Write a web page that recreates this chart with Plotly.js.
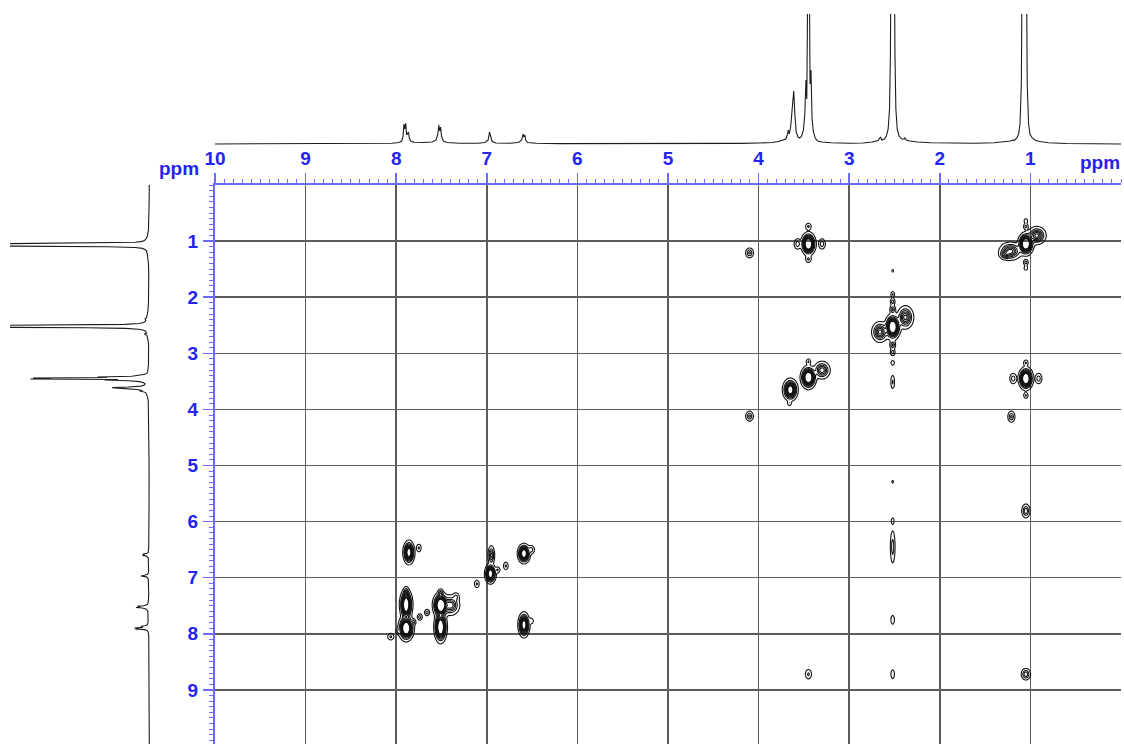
<!DOCTYPE html>
<html>
<head>
<meta charset="utf-8">
<script src="https://cdn.plot.ly/plotly-3.0.1.min.js"></script>
<style>
  html, body { margin: 0; padding: 0; background: #ffffff; }
  #chart { width: 1124px; height: 744px; }
</style>
</head>
<body>
<div id="chart"></div>
<script>
// ---------- 1D projection spectrum (ppm, intensity) ----------
const specPpm = [10.0, 9.0, 8.5, 8.2, 8.05, 7.97, 7.94, 7.925, 7.915, 7.905, 7.895, 7.885, 7.875, 7.865, 7.855, 7.84, 7.80, 7.70, 7.60, 7.56, 7.54, 7.53, 7.52, 7.51, 7.50, 7.48, 7.44, 7.30, 7.10, 7.02, 6.985, 6.97, 6.955, 6.94, 6.90, 6.75, 6.65, 6.615, 6.60, 6.59, 6.58, 6.57, 6.55, 6.45, 6.2, 5.5, 5.0, 4.5, 4.2, 4.0, 3.85, 3.78, 3.72, 3.70, 3.68, 3.672, 3.662, 3.645, 3.625, 3.612, 3.60, 3.585, 3.565, 3.545, 3.525, 3.505, 3.49, 3.477, 3.468, 3.457, 3.449, 3.44, 3.432, 3.422, 3.41, 3.395, 3.375, 3.35, 3.3, 3.2, 3.0, 2.85, 2.75, 2.68, 2.655, 2.64, 2.61, 2.59, 2.57, 2.555, 2.545, 2.535, 2.525, 2.515, 2.505, 2.495, 2.485, 2.47, 2.45, 2.42, 2.395, 2.385, 2.37, 2.33, 2.25, 2.1, 1.9, 1.6, 1.4, 1.3, 1.22, 1.195, 1.18, 1.15, 1.13, 1.115, 1.10, 1.09, 1.075, 1.06, 1.045, 1.035, 1.02, 1.005, 0.98, 0.95, 0.90, 0.80, 0.60, 0.30, 0.0];
const specInt = [0, 0.2, 0.3, 0.5, 0.8, 1.5, 3, 7, 20, 15, 21, 9, 11, 12, 6, 3, 1.8, 1.5, 2, 4, 10, 19, 13, 17, 8, 3, 1.5, 0.8, 0.8, 1.5, 4, 12, 7, 2.5, 1, 0.8, 1.5, 4, 10, 7, 9, 4, 1.5, 0.8, 0.4, 0.3, 0.3, 0.4, 0.6, 1, 1.5, 2.5, 4, 5, 10, 14, 10, 18, 40, 53, 30, 12, 7, 6, 8, 14, 30, 64, 45, 170, 140, 166, 60, 74, 25, 12, 6, 3, 2, 1.2, 0.8, 1, 2, 3.5, 7, 4, 5, 8, 15, 35, 90, 260, 600, 600, 260, 90, 35, 15, 8, 5, 5, 6, 4, 3, 2, 1.2, 0.8, 0.8, 1.2, 2, 3, 4, 3.5, 6, 10, 20, 60, 200, 600, 600, 200, 60, 20, 10, 6, 4, 2.5, 1.2, 0.5, 0.2, 0];

// ---------- 2D cross peaks: F2 ppm, F1 ppm, relative intensity, widths (ppm) ----------
const cpF2  = [3.45, 3.57, 3.30, 3.45, 3.45, 4.10, 1.05, 0.93, 1.22, 1.28, 1.05, 1.05, 1.05, 1.05, 2.52, 2.38, 2.66, 2.52, 2.52, 2.52, 2.52, 2.52, 2.52, 2.52, 2.52, 3.45, 3.65, 3.30, 3.45, 3.66, 1.05, 1.19, 0.91, 1.05, 1.05, 4.10, 1.21, 1.05, 1.05, 3.45, 2.52, 2.52, 2.52, 2.52, 2.52, 7.86, 7.75, 6.95, 6.96, 6.88, 6.79, 7.11, 6.59, 6.51, 6.59, 6.51, 7.89, 7.89, 7.89, 7.51, 7.40, 7.51, 7.51, 7.81, 7.74, 7.66, 7.34, 8.06, 7.98];
const cpF1  = [1.05, 1.05, 1.05, 0.74, 1.32, 1.21, 1.05, 0.90, 1.18, 1.24, 0.64, 0.74, 1.38, 1.48, 2.53, 2.36, 2.62, 1.95, 2.08, 2.22, 2.85, 2.98, 3.17, 1.53, 3.51, 3.43, 3.65, 3.30, 3.15, 3.89, 3.45, 3.45, 3.45, 3.17, 3.75, 4.12, 4.13, 5.81, 8.72, 8.72, 5.29, 5.99, 6.45, 7.75, 8.72, 6.55, 6.47, 6.60, 6.93, 6.86, 6.79, 7.11, 6.57, 6.50, 7.84, 7.77, 7.48, 7.27, 7.90, 7.49, 7.49, 7.88, 7.28, 7.79, 7.70, 7.62, 7.34, 8.05, 7.96];
const cpAmp = [1.2, 0.16, 0.16, 0.12, 0.12, 0.2, 1.2, 0.45, 0.45, 0.2, 0.1, 0.14, 0.15, 0.1, 1.2, 0.45, 0.45, 0.12, 0.15, 0.2, 0.2, 0.15, 0.1, 0.06, 0.12, 1.2, 0.9, 0.4, 0.12, 0.1, 1.2, 0.16, 0.16, 0.12, 0.12, 0.2, 0.2, 0.25, 0.25, 0.12, 0.06, 0.08, 0.15, 0.1, 0.1, 0.9, 0.12, 0.3, 1.0, 0.12, 0.12, 0.12, 1.0, 0.15, 0.9, 0.1, 1.1, 0.2, 1.2, 1.2, 0.4, 1.2, 0.2, 0.15, 0.15, 0.15, 0.12, 0.12, 0.12];
const cpWx  = [0.032, 0.02, 0.02, 0.018, 0.018, 0.022, 0.034, 0.045, 0.055, 0.03, 0.012, 0.014, 0.014, 0.012, 0.034, 0.04, 0.04, 0.012, 0.014, 0.016, 0.016, 0.014, 0.012, 0.008, 0.012, 0.034, 0.034, 0.04, 0.014, 0.012, 0.032, 0.02, 0.02, 0.014, 0.014, 0.022, 0.02, 0.022, 0.025, 0.02, 0.008, 0.01, 0.014, 0.012, 0.012, 0.026, 0.015, 0.017, 0.025, 0.015, 0.015, 0.015, 0.028, 0.02, 0.026, 0.015, 0.028, 0.015, 0.034, 0.034, 0.045, 0.028, 0.015, 0.015, 0.015, 0.015, 0.02, 0.02, 0.015];
const cpWy  = [0.08, 0.05, 0.05, 0.035, 0.035, 0.045, 0.08, 0.07, 0.07, 0.04, 0.025, 0.03, 0.03, 0.025, 0.09, 0.09, 0.08, 0.03, 0.035, 0.04, 0.04, 0.035, 0.025, 0.02, 0.07, 0.08, 0.08, 0.07, 0.03, 0.025, 0.08, 0.05, 0.05, 0.03, 0.03, 0.045, 0.05, 0.06, 0.05, 0.05, 0.02, 0.04, 0.16, 0.05, 0.05, 0.085, 0.04, 0.08, 0.07, 0.03, 0.04, 0.04, 0.07, 0.04, 0.09, 0.03, 0.11, 0.05, 0.09, 0.09, 0.08, 0.11, 0.04, 0.03, 0.03, 0.03, 0.04, 0.035, 0.03];

// ---------- axis ticks ----------
const xTickVals = [10, 9, 8, 7, 6, 5, 4, 3, 2, 1];
const xTickText = ['10', '9', '8', '7', '6', '5', '4', '3', '2', '1'];
const yTickVals = [1, 2, 3, 4, 5, 6, 7, 8, 9];
const yTickText = ['1', '2', '3', '4', '5', '6', '7', '8', '9'];

// ---------- build the 2D intensity grid from the peak list ----------
const GX0 = 0.6, GDX = 0.01, NX = 781;
const GY0 = 0.4, GDY = 0.02, NY = 441;
const gx = [], gy = [];
for (let i = 0; i < NX; i++) gx.push(+(GX0 + i * GDX).toFixed(4));
for (let j = 0; j < NY; j++) gy.push(+(GY0 + j * GDY).toFixed(4));
const z = [];
for (let j = 0; j < NY; j++) z.push(new Array(NX).fill(0));
for (let k = 0; k < cpF2.length; k++) {
  const x0 = cpF2[k], y0 = cpF1[k], A = cpAmp[k], wx = cpWx[k], wy = cpWy[k];
  const i0 = Math.max(0, Math.floor((x0 - 4 * wx - GX0) / GDX));
  const i1 = Math.min(NX - 1, Math.ceil((x0 + 4 * wx - GX0) / GDX));
  const j0 = Math.max(0, Math.floor((y0 - 4 * wy - GY0) / GDY));
  const j1 = Math.min(NY - 1, Math.ceil((y0 + 4 * wy - GY0) / GDY));
  for (let j = j0; j <= j1; j++) {
    const dy = (gy[j] - y0) / wy;
    for (let i = i0; i <= i1; i++) {
      const dx = (gx[i] - x0) / wx;
      z[j][i] += A * Math.exp(-0.5 * (dx * dx + dy * dy));
    }
  }
}

const BLUE_TXT = '#2424f0';
const BLUE_LINE = '#6b6bff';
const FONT = 'Liberation Sans, Arial, Helvetica, sans-serif';
const W = 1124, H = 744;
const mainX = [215 / W, 1121 / W];
const mainY = [0, 1 - 185 / H];
const yRange = [9.964, 0];

const traces = [
  {
    type: 'contour', x: gx, y: gy, z: z, xaxis: 'x', yaxis: 'y',
    showscale: false, hoverinfo: 'skip',
    contours: { coloring: 'none', start: 0.03, end: 0.63, size: 0.075 },
    line: { color: '#111111', width: 1.1, smoothing: 0.8 }
  },
  {
    type: 'scatter', mode: 'lines', x: specPpm, y: specInt, xaxis: 'x2', yaxis: 'y2',
    line: { color: '#1c1c1c', width: 1.1 }, hoverinfo: 'skip'
  },
  {
    type: 'scatter', mode: 'lines', x: specInt, y: specPpm, xaxis: 'x3', yaxis: 'y3',
    line: { color: '#1c1c1c', width: 1.1 }, hoverinfo: 'skip'
  }
];

const tickFont = { family: FONT, size: 19, color: BLUE_TXT, weight: 700 };

const layout = {
  width: W, height: H,
  margin: { l: 0, r: 0, t: 0, b: 0, pad: 0 },
  paper_bgcolor: '#ffffff', plot_bgcolor: 'rgba(0,0,0,0)',
  showlegend: false,
  xaxis: {
    domain: mainX, range: [10, 0], anchor: 'y', side: 'top',
    tickmode: 'array', tickvals: xTickVals, ticktext: xTickText,
    ticks: 'outside', ticklen: 10, tickwidth: 1.5, tickcolor: BLUE_LINE,
    tickfont: tickFont, ticklabelstandoff: 0,
    showline: true, linecolor: BLUE_LINE, linewidth: 2,
    showgrid: true, gridcolor: '#5c5c5c', gridwidth: 1.5, zeroline: false,
    minor: { tickmode: 'linear', tick0: 0, dtick: 0.1, ticks: 'outside', ticklen: 4, tickwidth: 1, tickcolor: BLUE_LINE, showgrid: false },
    fixedrange: true
  },
  yaxis: {
    domain: mainY, range: yRange, anchor: 'x', side: 'left',
    tickmode: 'array', tickvals: yTickVals, ticktext: yTickText,
    ticks: 'outside', ticklen: 10, tickwidth: 1.5, tickcolor: BLUE_LINE,
    tickfont: tickFont, ticklabelstandoff: 1,
    showline: true, linecolor: BLUE_LINE, linewidth: 2,
    showgrid: true, gridcolor: '#5c5c5c', gridwidth: 1.5, zeroline: false,
    minor: { tickmode: 'linear', tick0: 0, dtick: 0.1, ticks: 'outside', ticklen: 4, tickwidth: 1, tickcolor: BLUE_LINE, showgrid: false },
    fixedrange: true
  },
  xaxis2: { domain: mainX, range: [10, 0], anchor: 'y2', visible: false, fixedrange: true },
  yaxis2: { domain: [1 - 145 / H, 1 - 14 / H], range: [-1, 130], anchor: 'x2', visible: false, fixedrange: true },
  xaxis3: { domain: [10 / W, 150 / W], range: [199, -1], anchor: 'y3', visible: false, fixedrange: true },
  yaxis3: { domain: mainY, range: yRange, anchor: 'x3', visible: false, fixedrange: true },
  annotations: [
    { text: 'ppm', xref: 'paper', yref: 'paper', x: 201 / W, y: 1 - 168 / H, xanchor: 'right', yanchor: 'middle',
      showarrow: false, font: { family: FONT, size: 19, color: BLUE_TXT, weight: 700 } },
    { text: 'ppm', xref: 'paper', yref: 'paper', x: 1122 / W, y: 1 - 162 / H, xanchor: 'right', yanchor: 'middle',
      showarrow: false, font: { family: FONT, size: 19, color: BLUE_TXT, weight: 700 } }
  ]
};

Plotly.newPlot('chart', traces, layout, { displayModeBar: false, staticPlot: true });
</script>
</body>
</html>
